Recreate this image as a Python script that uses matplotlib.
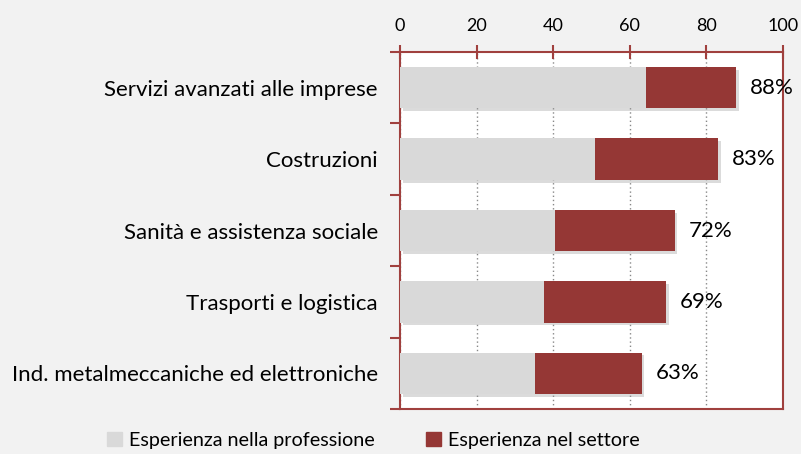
import matplotlib
matplotlib.use("Agg")
import matplotlib.pyplot as plt
import matplotlib.patheffects as pe
from matplotlib.patches import Patch
import numpy as np

categorie = ["Servizi avanzati alle imprese", "Costruzioni", "Sanità e assistenza sociale",
             "Trasporti e logistica", "Ind. metalmeccaniche ed elettroniche"]
professione = [64.3, 50.8, 40.4, 37.7, 35.2]
settore = [23.4, 32.2, 31.3, 31.7, 27.9]
tick_x = [0, 20, 40, 60, 80, 100]

plt.rcParams["font.family"] = ["Lato", "DejaVu Sans"]
rosso = "#953735"
grigio = "#d9d9d9"
bordo = "#a0403e"

fig = plt.figure(figsize=(8.01, 4.54), dpi=100, facecolor="#f2f2f2")
ax = fig.add_axes([0.4994, 0.0991, 0.4781, 0.7863])
ax.set_facecolor("white")

y = np.arange(len(categorie))
ombra = [pe.SimplePatchShadow(offset=(2, -2), shadow_rgbFace="#999999", alpha=0.35), pe.Normal()]
ax.barh(y, professione, height=0.58, color=grigio, zorder=3, path_effects=ombra)
ax.barh(y, settore, left=professione, height=0.58, color=rosso, zorder=3, path_effects=ombra)

for i, (p, s) in enumerate(zip(professione, settore)):
    tot = p + s
    ax.text(tot + 3.6, i, f"{round(tot)}%", va="center", ha="left", fontsize=16, zorder=4)

ax.set_xlim(0, 100)
ax.set_ylim(len(categorie) - 0.5, -0.5)
ax.xaxis.tick_top()
ax.set_xticks(tick_x)
ax.tick_params(axis="x", direction="inout", length=10, width=1.5, color=bordo,
               labelsize=13, pad=8)
ax.set_yticks(y)
ax.set_yticklabels(categorie, fontsize=16)
ax.tick_params(axis="y", which="major", length=0, pad=16)
ax.set_yticks(np.arange(-0.5, len(categorie)), minor=True)
ax.tick_params(axis="y", which="minor", direction="out", length=7, width=1.5, color=bordo)

ax.grid(axis="x", linestyle=(0, (1, 2)), color="#888888", linewidth=1, zorder=0)
for sp in ax.spines.values():
    sp.set_color(bordo)
    sp.set_linewidth(1.5)

voci = [Patch(color=grigio, label="Esperienza nella professione"),
        Patch(color=rosso, label="Esperienza nel settore")]
fig.legend(handles=voci, loc="lower center", bbox_to_anchor=(0.466, -0.015),
           ncol=2, frameon=False, fontsize=14.2, handlelength=0.75, handleheight=0.75,
           handletextpad=0.35, columnspacing=2.6, borderpad=0.1)

fig.savefig("out.png", dpi=100, facecolor=fig.get_facecolor())
